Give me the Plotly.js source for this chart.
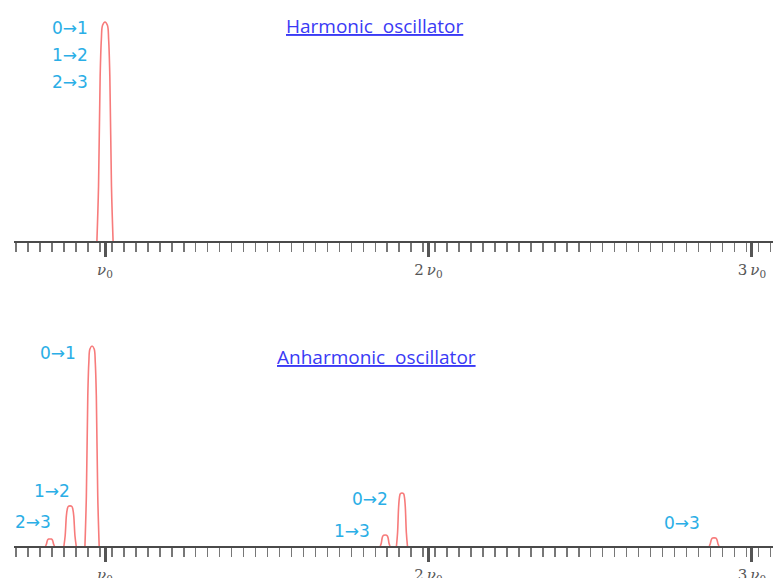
<!DOCTYPE html>
<html>
<head>
<meta charset="utf-8">
<script src="https://cdn.plot.ly/plotly-3.0.1.min.js"></script>
<style>html,body{margin:0;padding:0;background:#fff;}#chart{width:773px;height:578px;}</style>
</head>
<body>
<div id="chart"></div>
<script>
// ---- data (positions in units of nu0, heights relative) ----
const harmonicLabels = ["0\u21921", "1\u21922", "2\u21923"];
const harmonicCenters = [1.0];
const harmonicHeights = [1.0];
const harmonicHalfWidths = [0.025];

const anharmonicLabels = ["0\u21921", "1\u21922", "2\u21923", "0\u21922", "1\u21923", "0\u21923"];
const anharmonicCenters = [0.960, 0.892, 0.830, 1.918, 1.866, 2.883];
const anharmonicHeights = [0.913, 0.183, 0.032, 0.242, 0.050, 0.037];
const anharmonicHalfWidths = [0.022, 0.019, 0.014, 0.017, 0.015, 0.015];

const tickValues = [1, 2, 3];
const tickLabels = ["<i>\u03bd</i><sub>0</sub>", "2\u2009<i>\u03bd</i><sub>0</sub>", "3\u2009<i>\u03bd</i><sub>0</sub>"];

// line-shape profile of a drawn peak (style, relative units)
const PROFILE_DX = [-1, -0.8, -0.6, -0.45, -0.3, 0, 0.3, 0.45, 0.6, 0.8, 1];
const PROFILE_Y  = [0, 0.25, 0.75, 0.92, 0.985, 1, 0.985, 0.92, 0.75, 0.25, 0];

function peakTraces(centers, heights, widths, xa, ya) {
  return centers.map((c, i) => ({
    type: "scatter", mode: "lines",
    x: PROFILE_DX.map(d => c + d * widths[i]),
    y: PROFILE_Y.map(p => p * heights[i]),
    line: {color: "#f77b7b", width: 1.6, shape: "spline", smoothing: 1},
    xaxis: xa, yaxis: ya, hoverinfo: "skip", showlegend: false
  }));
}

const traces = [
  ...peakTraces(harmonicCenters, harmonicHeights, harmonicHalfWidths, "x", "y"),
  ...peakTraces(anharmonicCenters, anharmonicHeights, anharmonicHalfWidths, "x2", "y2")
];

const xRange = [0.7187, 3.065];
function xAxis(anchor) {
  return {
    range: xRange, anchor: anchor, showgrid: false, zeroline: false,
    showline: true, linecolor: "#4a4a4a", linewidth: 2,
    tickmode: "array", tickvals: tickValues, ticktext: tickLabels,
    ticks: "outside", ticklen: 14, tickwidth: 3, tickcolor: "#555",
    tickfont: {family: "DejaVu Serif", size: 15, color: "#555"},
    minor: {tick0: 0.9845, dtick: 0.037, ticks: "outside", ticklen: 9, tickwidth: 1.5, tickcolor: "#777", showgrid: false},
    fixedrange: true
  };
}

const labelFont = {family: "DejaVu Sans", size: 17, color: "#2aaee6"};
const titleFont = {family: "Open Sans", size: 19, color: "#3a3af5"};

const annotations = [
  {text: "<u>Harmonic  oscillator</u>", x: 1.835, y: 0.982, xref: "x", yref: "y", showarrow: false, font: titleFont},
  {text: harmonicLabels[0], x: 0.892, y: 0.973, xref: "x", yref: "y", showarrow: false, font: labelFont},
  {text: harmonicLabels[1], x: 0.892, y: 0.849, xref: "x", yref: "y", showarrow: false, font: labelFont},
  {text: harmonicLabels[2], x: 0.892, y: 0.726, xref: "x", yref: "y", showarrow: false, font: labelFont},
  {text: "<u>Anharmonic  oscillator</u>", x: 1.838, y: 0.863, xref: "x2", yref: "y2", showarrow: false, font: titleFont},
  {text: anharmonicLabels[0], x: 0.855, y: 0.881, xref: "x2", yref: "y2", showarrow: false, font: labelFont},
  {text: anharmonicLabels[1], x: 0.836, y: 0.251, xref: "x2", yref: "y2", showarrow: false, font: labelFont},
  {text: anharmonicLabels[2], x: 0.777, y: 0.110, xref: "x2", yref: "y2", showarrow: false, font: labelFont},
  {text: anharmonicLabels[3], x: 1.819, y: 0.215, xref: "x2", yref: "y2", showarrow: false, font: labelFont},
  {text: anharmonicLabels[4], x: 1.764, y: 0.068, xref: "x2", yref: "y2", showarrow: false, font: labelFont},
  {text: anharmonicLabels[5], x: 2.784, y: 0.105, xref: "x2", yref: "y2", showarrow: false, font: labelFont}
];

const layout = {
  width: 773, height: 578,
  margin: {l: 14, r: 0, t: 0, b: 32},
  paper_bgcolor: "#fff", plot_bgcolor: "#fff",
  showlegend: false,
  xaxis: xAxis("y"),
  xaxis2: xAxis("y2"),
  yaxis: {domain: [0.5586, 1], range: [0, 1.1005], visible: false, fixedrange: true},
  yaxis2: {domain: [0, 0.3956], range: [0, 0.986], visible: false, fixedrange: true},
  annotations: annotations
};

Plotly.newPlot("chart", traces, layout, {displayModeBar: false, staticPlot: true});
</script>
</body>
</html>
